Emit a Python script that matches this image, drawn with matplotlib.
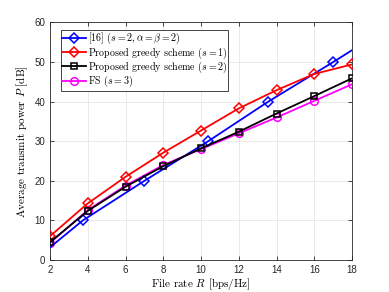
import matplotlib
matplotlib.use("Agg")
import matplotlib.pyplot as plt

plt.rcParams['mathtext.fontset'] = 'cm'
plt.rcParams['font.family'] = ['cmr10', 'DejaVu Serif']
plt.rcParams['axes.unicode_minus'] = False
plt.rcParams['axes.formatter.use_mathtext'] = False

R = [2, 4, 6, 8, 10, 12, 14, 16, 18]
ref16_R = [2, 3.74, 7.0, 10.38, 13.56, 17.0, 18]
ref16_P = [3.2, 10, 20, 30, 40, 50, 53]
greedy_s1 = [6.0, 14.3, 21.0, 27.1, 32.7, 38.3, 42.9, 47.0, 49.4]
greedy_s2 = [4.5, 12.4, 18.5, 23.7, 28.2, 32.4, 37.0, 41.4, 45.9]
fs_s3 = [4.3, 12.6, 18.8, 24.0, 28.0, 32.0, 36.0, 40.2, 44.4]

labels = [r'[16] $(s=2,\alpha=\beta=2)$',
          r'Proposed greedy scheme $(s=1)$',
          r'Proposed greedy scheme $(s=2)$',
          r'FS $(s=3)$']

fig = plt.figure(figsize=(3.89, 2.92), dpi=100)
ax = fig.add_axes([0.1285, 0.1096, 0.7765, 0.8134])

lw = 1.3
ms = 5.5
ax.plot(ref16_R, ref16_P, color='blue', lw=lw, marker='D', ms=ms, mfc='none',
        mew=1.1, markevery=[1, 2, 3, 4, 5], label=labels[0], zorder=3)
ax.plot(R, greedy_s1, color='red', lw=lw, marker='D', ms=ms, mfc='none',
        mew=1.1, label=labels[1], zorder=3)
ax.plot(R, greedy_s2, color='black', lw=lw, marker='s', ms=ms - 0.5, mfc='none',
        mew=1.1, label=labels[2], zorder=4)
ax.plot(R, fs_s3, color='magenta', lw=lw, marker='o', ms=ms, mfc='none',
        mew=1.1, label=labels[3], zorder=2)

ax.set_xlim(2, 18)
ax.set_ylim(0, 60)
ax.set_xticks(range(2, 19, 2))
ax.set_yticks(range(0, 61, 10))
ax.grid(True, color='#e6e6e6', lw=0.6)
ax.set_axisbelow(True)
ax.tick_params(direction='in', labelsize=7, length=3, width=0.6, colors='#262626',
               top=True, right=True, labelcolor='#262626')
for t in ax.get_xticklabels() + ax.get_yticklabels():
    t.set_fontfamily(['Liberation Sans', 'DejaVu Sans'])
for s in ax.spines.values():
    s.set_color('#262626')
    s.set_linewidth(0.6)

ax.set_xlabel(r'File rate $R$ [bps/Hz]', fontsize=8, labelpad=1)
ax.set_ylabel(r'Average transmit power $P$ [dB]', fontsize=8, labelpad=3)

h, l = ax.get_legend_handles_labels()
leg = ax.legend(h, l, loc='upper left', bbox_to_anchor=(0.035, 0.97), fontsize=7.2,
                frameon=True, fancybox=False, edgecolor='#262626', framealpha=1,
                borderpad=0.15, labelspacing=-0.1, handlelength=2.4, handletextpad=0.15,
                borderaxespad=0)
leg.get_frame().set_linewidth(0.6)

fig.savefig('out.png', dpi=100)
